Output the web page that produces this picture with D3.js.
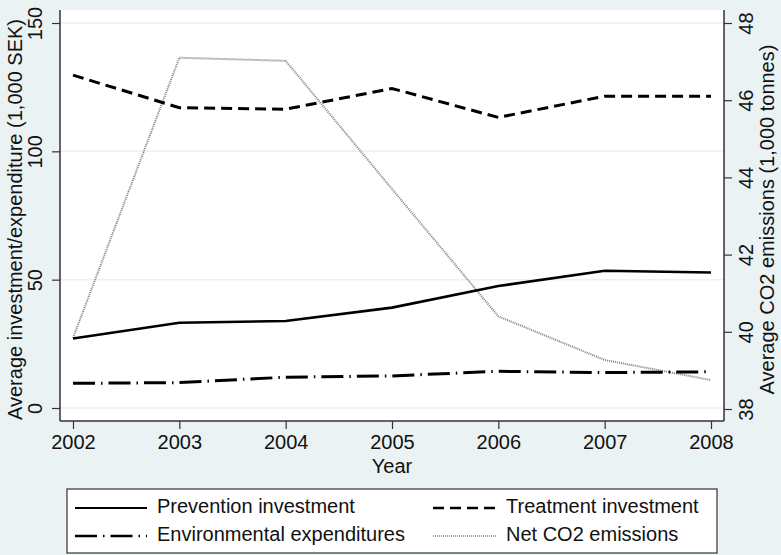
<!DOCTYPE html>
<html lang="en">
<head>
<meta charset="UTF-8">
<title>Investment and CO2 emissions</title>
<script src="https://cdnjs.cloudflare.com/ajax/libs/d3/7.8.5/d3.min.js"></script>
<style>
    body { margin: 0; background: #eaf2f3; }
    svg { display: block; font-family: "Liberation Sans", Arial, sans-serif; }
</style>
</head>
<body>
<div id="chart"></div>
<script>
// data
const years = [2002, 2003, 2004, 2005, 2006, 2007, 2008];
const prevention = [27.1, 33.2, 33.9, 39.1, 47.5, 53.5, 52.8];
const treatment = [129.7, 117.0, 116.4, 124.5, 113.2, 121.5, 121.5];
const environmental = [9.6, 9.9, 12.0, 12.5, 14.3, 13.8, 14.1];
const co2 = [39.84, 47.1, 47.02, 43.7, 40.4, 39.27, 38.75];
const leftTicks = [0, 50, 100, 150];
const rightTicks = [38, 40, 42, 44, 46, 48];

const W = 781, H = 555;
const plot = { left: 60, right: 724, top: 10, bottom: 421 };

const svg = d3.select("#chart").append("svg")
    .attr("width", W).attr("height", H);

svg.append("rect").attr("width", W).attr("height", H).attr("fill", "#eaf2f3");
svg.append("rect")
    .attr("x", plot.left).attr("y", plot.top)
    .attr("width", plot.right - plot.left).attr("height", plot.bottom - plot.top)
    .attr("fill", "#ffffff");

const x = d3.scaleLinear().domain([2002, 2008]).range([73, 711]);
const yL = d3.scaleLinear().domain([0, 150]).range([408, 23]);
const yR = d3.scaleLinear().domain([38, 48]).range([409, 23]);

// gridlines
svg.append("g").selectAll("line").data(leftTicks).enter().append("line")
    .attr("x1", plot.left).attr("x2", plot.right)
    .attr("y1", d => yL(d)).attr("y2", d => yL(d))
    .attr("stroke", "#eaf2f3").attr("stroke-width", 1.5);

// axes
const axisColor = "#333";
const fs = 20;

const gx = svg.append("g").attr("transform", `translate(0,${plot.bottom})`)
    .call(d3.axisBottom(x).tickValues(years).tickFormat(d3.format("d")).tickSize(8).tickPadding(6));
const gl = svg.append("g").attr("transform", `translate(${plot.left},0)`)
    .call(d3.axisLeft(yL).tickValues(leftTicks).tickSize(8));
const gr = svg.append("g").attr("transform", `translate(${plot.right},0)`)
    .call(d3.axisRight(yR).tickValues(rightTicks).tickSize(8));

[gx, gl, gr].forEach(g => {
    g.select(".domain").remove();
    g.selectAll(".tick line").attr("stroke", axisColor).attr("stroke-width", 1.2);
    g.selectAll("text").attr("fill", "#111").style("font-size", fs + "px");
});
gx.selectAll("text").attr("dy", "0.71em");

gl.selectAll(".tick text")
    .attr("x", null).attr("dy", null)
    .attr("transform", "translate(-23,0) rotate(-90)")
    .attr("text-anchor", "middle").attr("dominant-baseline", "middle");
gr.selectAll(".tick text")
    .attr("x", null).attr("dy", null)
    .attr("transform", "translate(24,0) rotate(-90)")
    .attr("text-anchor", "middle").attr("dominant-baseline", "middle");

// axis lines
svg.append("line").attr("x1", plot.left).attr("x2", plot.right)
    .attr("y1", plot.bottom).attr("y2", plot.bottom)
    .attr("stroke", axisColor).attr("stroke-width", 1.5);
svg.append("line").attr("x1", plot.left).attr("x2", plot.left)
    .attr("y1", plot.top).attr("y2", plot.bottom)
    .attr("stroke", axisColor).attr("stroke-width", 1.5);
svg.append("line").attr("x1", plot.right).attr("x2", plot.right)
    .attr("y1", plot.top).attr("y2", plot.bottom)
    .attr("stroke", axisColor).attr("stroke-width", 1.5);

// axis titles
svg.append("text").attr("x", (73 + 711) / 2).attr("y", 473)
    .attr("text-anchor", "middle").style("font-size", fs + "px").attr("fill", "#111")
    .text("Year");
svg.append("text")
    .attr("transform", `translate(17,${(plot.top + plot.bottom) / 2 + 4}) rotate(-90)`)
    .attr("text-anchor", "middle").attr("dominant-baseline", "middle")
    .style("font-size", fs + "px").attr("fill", "#111")
    .text("Average investment/expenditure (1,000 SEK)");
svg.append("text")
    .attr("transform", `translate(769,${(plot.top + plot.bottom) / 2 + 4}) rotate(-90)`)
    .attr("text-anchor", "middle").attr("dominant-baseline", "middle")
    .style("font-size", fs + "px").attr("fill", "#111")
    .text("Average CO2 emissions (1,000 tonnes)");

// series
const styles = {
    prevention: { stroke: "#000", width: 2.6, dash: null },
    treatment: { stroke: "#000", width: 3, dash: "11,6" },
    environmental: { stroke: "#000", width: 3, dash: "22,6,1.5,6" },
    co2: { stroke: "#808080", width: 2, dash: "1,1" }
};

function drawLine(values, scale, st) {
    const line = d3.line().x((d, i) => x(years[i])).y(d => scale(d));
    svg.append("path").datum(values)
        .attr("d", line).attr("fill", "none")
        .attr("stroke", st.stroke).attr("stroke-width", st.width)
        .attr("stroke-dasharray", st.dash);
}
drawLine(co2, yR, styles.co2);
drawLine(environmental, yL, styles.environmental);
drawLine(treatment, yL, styles.treatment);
drawLine(prevention, yL, styles.prevention);

// legend
const lg = svg.append("g");
lg.append("rect").attr("x", 67).attr("y", 489).attr("width", 650).attr("height", 64)
    .attr("fill", "#fff").attr("stroke", "#333").attr("stroke-width", 1.2);
const items = [
    { label: "Prevention investment", st: styles.prevention, x: 75, len: 72, y: 508 },
    { label: "Treatment investment", st: styles.treatment, x: 433, len: 63, y: 508 },
    { label: "Environmental expenditures", st: styles.environmental, x: 75, len: 72, y: 536 },
    { label: "Net CO2 emissions", st: styles.co2, x: 433, len: 63, y: 536 }
];
items.forEach(it => {
    lg.append("line").attr("x1", it.x).attr("x2", it.x + it.len)
        .attr("y1", it.y).attr("y2", it.y)
        .attr("stroke", it.st.stroke).attr("stroke-width", it.st.width * 0.85)
        .attr("stroke-dasharray", it.st.dash);
    lg.append("text").attr("x", it.x + it.len + 10).attr("y", it.y)
        .attr("dominant-baseline", "middle").style("font-size", "20px").attr("fill", "#111")
        .text(it.label);
});
</script>
</body>
</html>
